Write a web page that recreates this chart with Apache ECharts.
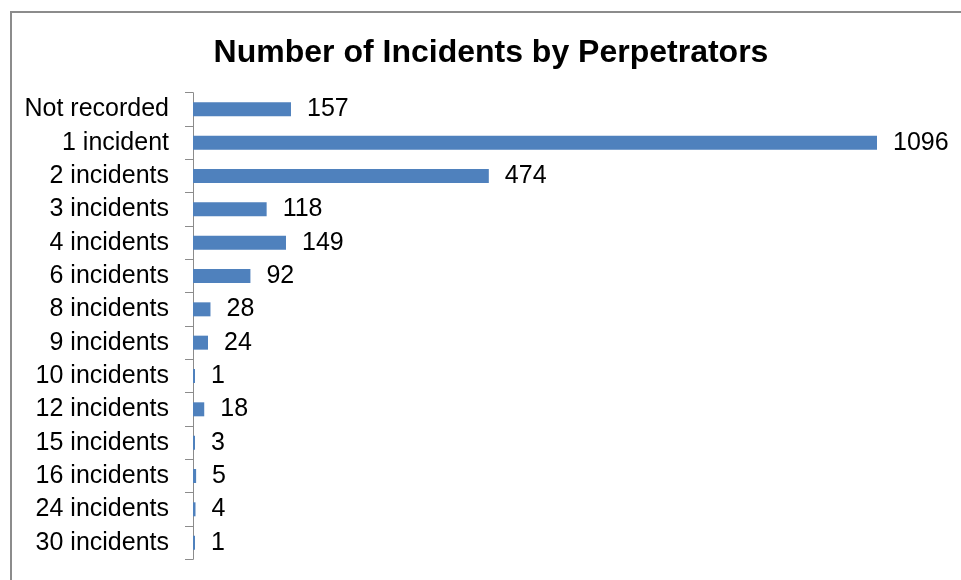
<!DOCTYPE html>
<html><head><meta charset="utf-8">
<script src="https://cdn.jsdelivr.net/npm/echarts@6/dist/echarts.min.js"></script>
<style>html,body{margin:0;padding:0;background:#fff}#c{width:961px;height:580px}</style>
</head><body><div id="c"></div>
<script>
const categories = ["Not recorded","1 incident","2 incidents","3 incidents","4 incidents","6 incidents","8 incidents","9 incidents","10 incidents","12 incidents","15 incidents","16 incidents","24 incidents","30 incidents"];
const counts = [157,1096,474,118,149,92,28,24,1,18,3,5,4,1];
const titleText = "Number of Incidents by Perpetrators";

const chart = echarts.init(document.getElementById('c'), null, {renderer:'canvas'});
chart.setOption({
  backgroundColor:'#fff',
  animation:false,
  title:{text:titleText,left:486,textAlign:'center',top:32,
    textStyle:{fontFamily:'Liberation Sans, Arial',fontWeight:'bold',fontSize:32,color:'#000'}},
  graphic:[{type:'rect',shape:{x:11,y:12,width:1000,height:620},
    style:{fill:'none',stroke:'#8c8c8c',lineWidth:2},silent:true}],
  grid:{left:193,top:92.7,width:684,height:466.6,containLabel:false},
  xAxis:{type:'value',min:0,max:1096,show:false,splitLine:{show:false}},
  yAxis:{type:'category',data:categories,inverse:true,
    axisLine:{show:true,lineStyle:{color:'#8c8c8c',width:1}},
    axisTick:{show:true,length:8,lineStyle:{color:'#8c8c8c'}},
    axisLabel:{margin:24,color:'#000',fontFamily:'Liberation Sans, Arial',fontSize:25}},
  series:[{type:'bar',data:counts,barWidth:14,barMinHeight:2,
    itemStyle:{color:'#4f81bd'},
    label:{show:true,position:'right',distance:16,color:'#000',
      fontFamily:'Liberation Sans, Arial',fontSize:25}}]
});
</script></body></html>
